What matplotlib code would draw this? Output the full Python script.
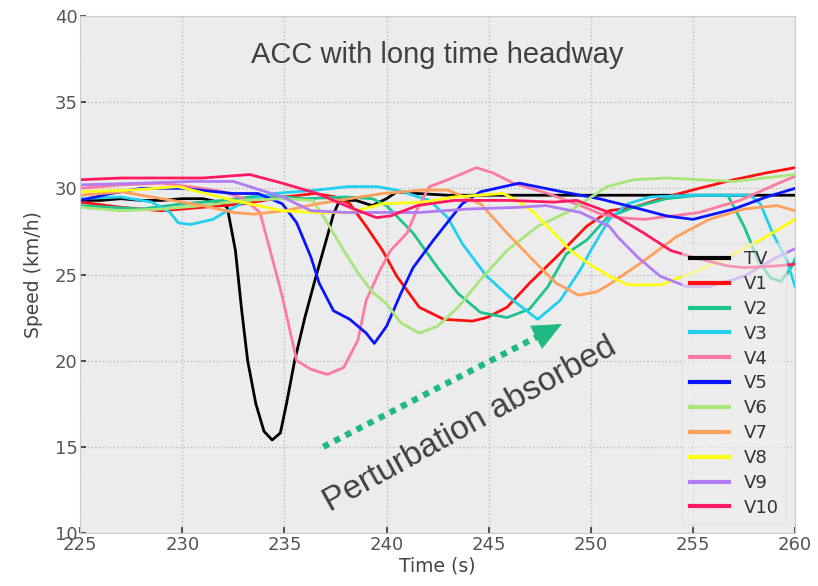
import matplotlib
matplotlib.use('Agg')
import matplotlib.pyplot as plt

# speed traces (time s, speed km/h)
t_tv = [225, 226, 227, 228, 229, 230, 231, 231.8, 232.2, 232.6, 232.9, 233.2, 233.6, 234.0, 234.4,
        234.8, 235.1, 235.5, 236.0, 236.5, 237.0, 237.4, 237.7, 238.5, 239.3, 240.0, 240.5, 241.5,
        243, 250, 255, 260]
v_tv = [29.3, 29.3, 29.4, 29.3, 29.3, 29.4, 29.4, 29.2, 28.9, 26.4, 23.0, 20.0, 17.5, 15.9, 15.4,
        15.8, 17.5, 20.0, 22.5, 24.7, 26.8, 28.5, 29.3, 29.3, 29.0, 29.4, 29.8, 29.7,
        29.6, 29.6, 29.6, 29.6]

t_v1 = [225, 227, 229, 231, 233, 235, 236.5, 237.5, 238.2, 239.0, 239.8, 240.5, 241.6, 242.8, 244.2,
        244.9, 245.9, 247.0, 248.3, 249.8, 250.9, 252.1, 253.7, 255.3, 257.0, 258.6, 260]
v_v1 = [29.2, 28.9, 28.7, 28.9, 29.1, 29.5, 29.7, 29.5, 29.1, 27.8, 26.4, 24.9, 23.1, 22.4, 22.3,
        22.5, 23.1, 24.5, 26.0, 27.8, 28.7, 28.9, 29.5, 30.0, 30.5, 30.9, 31.2]

t_v2 = [225, 228, 230, 232, 234, 236, 238, 239.3, 240.0, 241.3, 242.5, 243.5, 244.6, 245.9, 247.0,
        247.9, 248.8, 249.8, 250.8, 252.1, 253.7, 255.3, 256.7, 257.5, 258.2, 258.8, 259.3, 259.8, 260]
v_v2 = [29.0, 28.8, 29.1, 29.3, 29.6, 29.4, 29.5, 29.4, 29.0, 27.4, 25.4, 23.9, 22.8, 22.5, 23.0,
        24.3, 26.2, 27.0, 28.3, 28.9, 29.4, 29.6, 29.6, 27.8, 25.8, 24.8, 24.6, 25.4, 25.9]

t_v3 = [225, 227, 228.5, 229.4, 229.8, 230.4, 231.5, 232.2, 233.2, 234.5, 236.6, 238.1, 239.5, 240.5,
        242.1, 243.0, 243.7, 244.9, 246.2, 247.4, 248.5, 249.5, 250.0, 250.9, 251.8, 252.9, 255, 257.8,
        258.3, 258.9, 259.6, 260]
v_v3 = [29.4, 29.5, 29.2, 28.6, 28.0, 27.9, 28.2, 28.7, 29.3, 29.7, 29.9, 30.1, 30.1, 29.9,
        29.3, 28.3, 26.8, 24.9, 23.5, 22.4, 23.5, 25.3, 26.4, 28.2, 29.1, 29.5, 29.6, 29.6,
        29.1, 27.4, 25.8, 24.3]

t_v4 = [225, 227, 229, 231, 232, 233, 233.8, 234.3, 234.9, 235.6, 236.3, 237.1, 237.9, 238.6, 239.0,
        239.7, 240.2, 241.0, 241.5, 242.1, 243, 244.4, 245.2, 246.2, 247.9, 249.5, 250.5, 251.4, 252.6,
        254, 255.3, 257.3, 259, 260]
v_v4 = [30.0, 30.2, 30.3, 30.0, 29.8, 29.4, 28.6, 26.4, 23.7, 20.0, 19.5, 19.2, 19.6, 21.2, 23.5,
        25.3, 26.4, 27.4, 28.8, 30.1, 30.5, 31.2, 30.9, 30.3, 29.7, 29.0, 28.5, 28.3, 28.2,
        28.4, 28.6, 29.3, 30.2, 30.7]

t_v5 = [225, 226.5, 228, 230, 232.5, 233.7, 234.9, 235.6, 236.3, 236.7, 237.4, 238.2, 239.0, 239.4,
        240.0, 240.7, 241.3, 242.3, 243.7, 244.6, 246.5, 248.6, 250.4, 252.1, 253.7, 255.0, 257.0,
        258.6, 260]
v_v5 = [29.3, 29.7, 30.0, 30.0, 29.7, 29.7, 29.1, 28.0, 26.0, 24.5, 22.9, 22.4, 21.6, 21.0,
        22.0, 23.9, 25.4, 27.0, 29.1, 29.8, 30.3, 29.8, 29.4, 28.9, 28.4, 28.2, 28.8,
        29.5, 30.0]

t_v6 = [225, 227, 229, 231, 233, 235, 236.4, 237.1, 237.9, 238.6, 239.3, 240.0, 240.7, 241.6, 242.5,
        243.5, 244.6, 245.9, 247.4, 249.0, 250.8, 252.1, 253.7, 255.3, 257, 258.5, 260]
v_v6 = [28.9, 28.7, 28.8, 29.0, 29.3, 29.4, 29.3, 28.0, 26.4, 25.1, 24.0, 23.3, 22.2, 21.6, 22.0,
        23.1, 24.7, 26.4, 27.8, 28.7, 30.1, 30.5, 30.6, 30.5, 30.4, 30.6, 30.8]

t_v7 = [225, 227, 229, 231, 232.5, 233.5, 235, 236.6, 238.2, 239.8, 241.8, 243.0, 244.6, 245.9, 247.2,
        248.3, 249.4, 250.3, 251.0, 252.6, 254.2, 255.8, 257.5, 259.1, 260]
v_v7 = [29.6, 29.8, 29.4, 29.0, 28.6, 28.5, 28.7, 29.1, 29.4, 29.7, 29.9, 29.9, 29.1, 27.4, 25.8,
        24.5, 23.8, 24.0, 24.5, 25.8, 27.2, 28.2, 28.8, 29.0, 28.7]

t_v8 = [225, 227.5, 229.8, 232.5, 234.9, 236.5, 238.2, 239.8, 241.8, 243.3, 245.7, 246.4, 247.2, 248.2,
        249.0, 249.8, 250.9, 251.8, 253.4, 255.0, 256.7, 258.3, 260]
v_v8 = [29.8, 29.9, 30.1, 29.3, 28.7, 28.6, 28.6, 29.1, 29.2, 29.5, 29.7, 29.3, 28.6, 27.4,
        26.4, 25.7, 24.9, 24.4, 24.4, 25.1, 26.0, 27.0, 28.2]

t_v9 = [225, 228, 230.5, 232.5, 233.3, 234.9, 236.3, 238, 239.8, 241.6, 244, 246.5, 247.8, 249.5,
        250.9, 251.3, 252.3, 253.4, 254.7, 255.8, 257.5, 259.1, 260]
v_v9 = [30.2, 30.3, 30.4, 30.4, 30.1, 29.5, 28.7, 28.6, 28.6, 28.6, 28.8, 28.9, 29.0, 28.6,
        27.8, 27.2, 26.0, 24.9, 24.3, 24.3, 24.9, 26.0, 26.5]

t_v10 = [225, 227, 229, 231, 233.3, 234.9, 236.6, 238.2, 239.5, 240.2, 241.5, 243.3, 246, 248.2,
         249.3, 250.9, 252.6, 253.9, 255.0, 256.7, 257.5, 259.1, 260]
v_v10 = [30.5, 30.6, 30.6, 30.6, 30.8, 30.3, 29.7, 28.9, 28.3, 28.4, 29.0, 29.3, 29.3, 29.2,
         29.3, 28.6, 27.4, 26.4, 26.0, 25.5, 25.4, 25.5, 25.6]

labels = ['TV', 'V1', 'V2', 'V3', 'V4', 'V5', 'V6', 'V7', 'V8', 'V9', 'V10']
colors = ['#000000', '#ff1010', '#1ec38e', '#22cfee', '#ff7aa0', '#0a14ff',
          '#a8e57a', '#ffa05c', '#ffff10', '#b27cf5', '#ff1a62']
series_t = [t_tv, t_v1, t_v2, t_v3, t_v4, t_v5, t_v6, t_v7, t_v8, t_v9, t_v10]
series_v = [v_tv, v_v1, v_v2, v_v3, v_v4, v_v5, v_v6, v_v7, v_v8, v_v9, v_v10]

# arrow ends (time, speed)
arrow_start = (236.9, 15.0)
arrow_end = (248.7, 22.2)

fig = plt.figure(figsize=(8.18, 5.86), dpi=100)
ax = fig.add_axes([0.098, 0.0904, 0.874, 0.8823])
ax.set_facecolor('#ececec')

for t, v, lab, c in zip(series_t, series_v, labels, colors):
    ax.plot(t, v, color=c, lw=2.0, label=lab, solid_joinstyle='round')

ax.set_xlim(225, 260)
ax.set_ylim(10, 40)
ax.set_xticks(range(225, 261, 5))
ax.set_yticks(range(10, 41, 5))
ax.grid(True, color='#bdbdbd', ls=':', lw=1.0)
ax.set_axisbelow(True)
for s in ax.spines.values():
    s.set_color('#cccccc')
ax.tick_params(direction='in', length=4, width=1.2, color='#333333',
               labelsize=13, labelcolor='#555555', pad=2)
ax.set_xlabel('Time (s)', fontsize=13.5, color='#444444', labelpad=2)
ax.set_ylabel('Speed (km/h)', fontsize=13.5, color='#444444', labelpad=8)

ax.text(0.5, 0.925, 'ACC with long time headway', transform=ax.transAxes,
        ha='center', va='center', fontsize=21, color='#404040', family='Liberation Sans')

ax.plot([arrow_start[0], arrow_end[0] - 0.6], [arrow_start[1], arrow_end[1] - 0.37],
        color='#1fba82', lw=4.5, ls=(0, (1, 1)), solid_capstyle='butt')
ax.annotate('', xy=arrow_end, xytext=(arrow_end[0] - 0.8, arrow_end[1] - 0.49),
            arrowprops=dict(arrowstyle='-|>,head_width=0.45,head_length=1.0',
                            color='#1fba82', lw=0.5, mutation_scale=20))

ax.text(244.1, 16.3, 'Perturbation absorbed', rotation=29, ha='center', va='center',
        fontsize=24, color='#404040', family='Liberation Sans', rotation_mode='anchor')

leg = ax.legend(loc='lower right', fontsize=13, frameon=True, handlelength=2.2,
                borderaxespad=0.5, labelspacing=0.38)
leg.get_frame().set_facecolor('#eeeeee')
leg.get_frame().set_edgecolor('#dddddd')
leg.get_frame().set_alpha(0.6)
for h in leg.get_lines():
    h.set_linewidth(3)
for txt in leg.get_texts():
    txt.set_color('#333333')

fig.savefig('out.png', dpi=100)
